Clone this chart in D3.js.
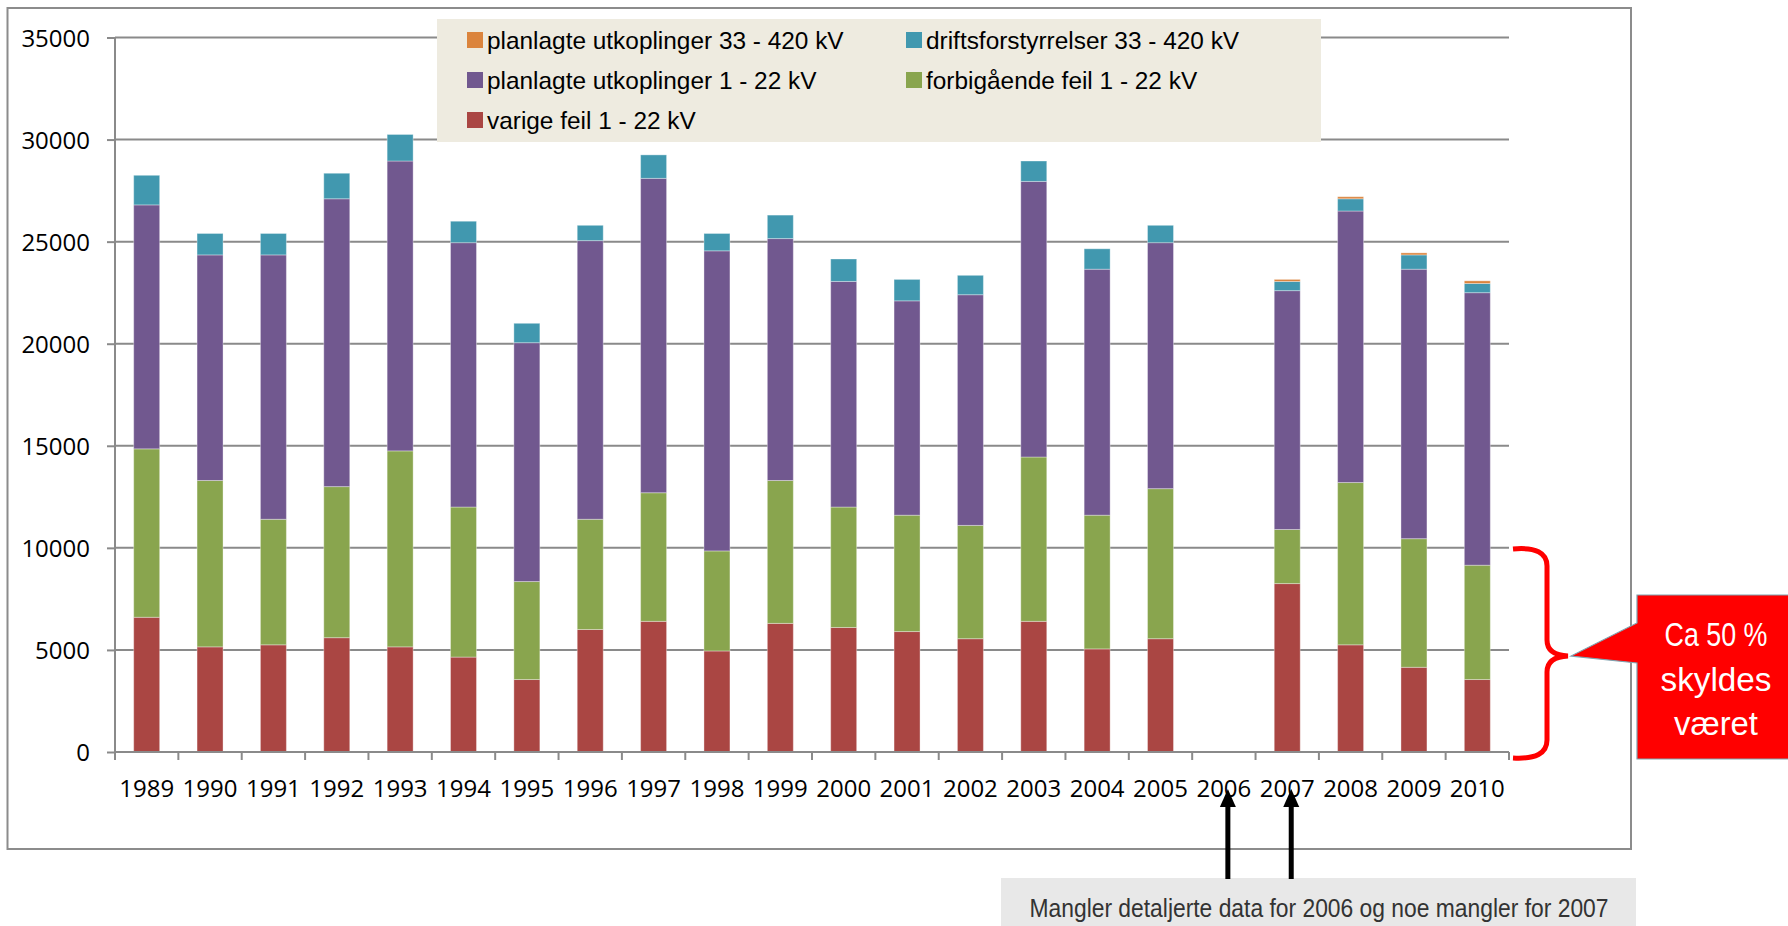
<!DOCTYPE html>
<html>
<head>
<meta charset="utf-8">
<script src="https://cdn.jsdelivr.net/npm/d3@7"></script>
<style>
    body { margin: 0; background: #fff; }
    svg { display: block; }
    .axis text { font-family: "Open Sans", sans-serif; font-size: 24px; fill: #000; }
    .legend text { font-family: "Liberation Sans", sans-serif; font-size: 24.4px; fill: #000; }
    .note { font-family: "Liberation Sans Narrow", "Liberation Sans", sans-serif; }
</style>
</head>
<body>
<div id="chart"></div>
<script>
// data
var years = ["1989", "1990", "1991", "1992", "1993", "1994", "1995", "1996", "1997", "1998", "1999",
             "2000", "2001", "2002", "2003", "2004", "2005", "2006", "2007", "2008", "2009", "2010"];
var varigeFeil = [6600, 5150, 5250, 5600, 5150, 4650, 3550, 6000, 6400, 4950, 6300,
                  6100, 5900, 5550, 6400, 5050, 5550, 0, 8250, 5250, 4150, 3550];
var forbigaendeFeil = [8250, 8150, 6150, 7400, 9600, 7350, 4800, 5400, 6300, 4900, 7000,
                       5900, 5700, 5550, 8050, 6550, 7350, 0, 2650, 7950, 6300, 5600];
var planlagteLav = [11950, 11050, 12950, 14100, 14200, 12950, 11700, 13650, 15400, 14700, 11850,
                    11050, 10500, 11300, 13500, 12050, 12050, 0, 11700, 13300, 13200, 13350];
var driftsHoy = [1450, 1050, 1050, 1250, 1300, 1050, 950, 750, 1150, 850, 1150,
                 1100, 1050, 950, 1000, 1000, 850, 0, 450, 600, 700, 450];
var planlagteHoy = [0, 0, 0, 0, 0, 0, 0, 0, 0, 0, 0,
                    0, 0, 0, 0, 0, 0, 0, 100, 100, 100, 130];
var yTicks = [0, 5000, 10000, 15000, 20000, 25000, 30000, 35000];

var series = [
    { key: "varige", name: "varige feil 1 - 22 kV", values: varigeFeil, color: "#aa4643" },
    { key: "forb", name: "forbigående feil 1 - 22 kV", values: forbigaendeFeil, color: "#89a54e" },
    { key: "planLav", name: "planlagte utkoplinger 1 - 22 kV", values: planlagteLav, color: "#71588f" },
    { key: "drifts", name: "driftsforstyrrelser 33 - 420 kV", values: driftsHoy, color: "#4198af" },
    { key: "planHoy", name: "planlagte utkoplinger 33 - 420 kV", values: planlagteHoy, color: "#db843d" }
];

var W = 1788, H = 926;
var plot = { left: 115, right: 1509, top: 37.5, bottom: 752 };

var svg = d3.select("#chart").append("svg")
    .attr("width", W)
    .attr("height", H);

// outer chart border
svg.append("rect")
    .attr("x", 7.5).attr("y", 8)
    .attr("width", 1631 - 7.5).attr("height", 849 - 8)
    .attr("fill", "#fff")
    .attr("stroke", "#8c8c8c")
    .attr("stroke-width", 2);

var x = d3.scaleBand()
    .domain(years)
    .range([plot.left, plot.right])
    .paddingInner(0.59)
    .paddingOuter(0.295);

var y = d3.scaleLinear()
    .domain([0, 35000])
    .range([plot.bottom, plot.top]);

// gridlines
svg.append("g")
    .selectAll("line")
    .data(yTicks.slice(1))
    .enter().append("line")
    .attr("x1", plot.left).attr("x2", plot.right)
    .attr("y1", function (d) { return y(d); })
    .attr("y2", function (d) { return y(d); })
    .attr("stroke", "#8a8a8a")
    .attr("stroke-width", 2);

// stacked bars
var table = years.map(function (yr, i) {
    var row = { year: yr };
    series.forEach(function (s) { row[s.key] = s.values[i]; });
    return row;
});
var stacked = d3.stack().keys(series.map(function (s) { return s.key; }))(table);

svg.append("g")
    .selectAll("g")
    .data(stacked)
    .enter().append("g")
    .attr("fill", function (d, i) { return series[i].color; })
    .selectAll("rect")
    .data(function (d) { return d; })
    .enter().append("rect")
    .attr("x", function (d) { return x(d.data.year); })
    .attr("width", x.bandwidth())
    .attr("y", function (d) { return y(d[1]); })
    .attr("height", function (d) { return y(d[0]) - y(d[1]); })
    .attr("stroke", "rgba(255,255,255,0.35)")
    .attr("stroke-width", 1);

// y axis
var yAxis = d3.axisLeft(y)
    .tickValues(yTicks)
    .tickSize(8)
    .tickPadding(17)
    .tickFormat(d3.format("d"));
var gy = svg.append("g")
    .attr("class", "axis")
    .attr("transform", "translate(" + plot.left + ",0)")
    .call(yAxis);
gy.select(".domain").attr("stroke", "#8a8a8a").attr("stroke-width", 2).attr("d", "M0," + plot.top + "V" + plot.bottom);
gy.selectAll(".tick line").attr("stroke", "#8a8a8a").attr("stroke-width", 2);
gy.selectAll(".tick text").attr("dy", "0.36em");

// x axis: ticks on category boundaries
var boundaries = d3.range(years.length + 1).map(function (i) { return plot.left + i * (plot.right - plot.left) / years.length; });
var gx = svg.append("g")
    .attr("class", "axis")
    .attr("transform", "translate(0," + plot.bottom + ")");
gx.append("line")
    .attr("x1", plot.left).attr("x2", plot.right)
    .attr("stroke", "#8a8a8a").attr("stroke-width", 2);
gx.selectAll("line.tk")
    .data(boundaries)
    .enter().append("line")
    .attr("class", "tk")
    .attr("x1", function (d) { return d; }).attr("x2", function (d) { return d; })
    .attr("y1", 0).attr("y2", 8)
    .attr("stroke", "#8a8a8a").attr("stroke-width", 2);
gx.selectAll("text")
    .data(years)
    .enter().append("text")
    .attr("x", function (d) { return x(d) + x.bandwidth() / 2; })
    .attr("y", 44.5)
    .attr("text-anchor", "middle")
    .text(function (d) { return d; });

// legend
var legendOrder = [series[4], series[3], series[2], series[1], series[0]];
var lg = svg.append("g").attr("class", "legend");
lg.append("rect")
    .attr("x", 437).attr("y", 19)
    .attr("width", 1321 - 437).attr("height", 142 - 19)
    .attr("fill", "#eeebe0");
var items = lg.selectAll("g.item")
    .data(legendOrder)
    .enter().append("g")
    .attr("class", "item")
    .attr("transform", function (d, i) {
        return "translate(" + (i % 2 === 0 ? 467 : 906) + "," + (32 + Math.floor(i / 2) * 40) + ")";
    });
items.append("rect")
    .attr("width", 16).attr("height", 16)
    .attr("fill", function (d) { return d.color; });
items.append("text")
    .attr("x", 20).attr("y", 16.5)
    .text(function (d) { return d.name; });

// red brace
svg.append("path")
    .attr("d", "M1513,549 Q1547,546 1547,566 L1547,640 Q1547,655 1568,656 Q1547,657 1547,672 L1547,740 Q1547,760 1513,758")
    .attr("fill", "none")
    .attr("stroke", "#ff0000")
    .attr("stroke-width", 5);

// callout
svg.append("path")
    .attr("d", "M1637,595 L1790,595 L1790,759 L1637,759 L1637,663 L1571,656 L1637,623 Z")
    .attr("fill", "#ff0000")
    .attr("stroke", "#7fa3b0")
    .attr("stroke-width", 1.2);
var callLines = ["Ca 50 %", "skyldes", "været"];
var callWidths = [103, 111, 84];
svg.append("g")
    .selectAll("text")
    .data(callLines)
    .enter().append("text")
    .attr("class", "note")
    .attr("x", 1716)
    .attr("y", function (d, i) { return [646, 691, 735][i]; })
    .attr("text-anchor", "middle")
    .attr("font-size", 33)
    .attr("textLength", function (d, i) { return callWidths[i]; })
    .attr("lengthAdjust", "spacingAndGlyphs")
    .attr("fill", "#fff")
    .text(function (d) { return d; });

// note box and arrows
svg.append("rect")
    .attr("x", 1001).attr("y", 878)
    .attr("width", 1636 - 1001).attr("height", H - 878)
    .attr("fill", "#e8e8e8");
svg.append("text")
    .attr("class", "note")
    .attr("x", 1319).attr("y", 917)
    .attr("text-anchor", "middle")
    .attr("font-size", 25)
    .attr("textLength", 579)
    .attr("lengthAdjust", "spacingAndGlyphs")
    .attr("fill", "#333")
    .text("Mangler detaljerte data for 2006 og noe mangler for 2007");

["2006", "2007"].forEach(function (yr) {
    var cx = x(yr) + x.bandwidth() / 2 + 4;
    svg.append("line")
        .attr("x1", cx).attr("x2", cx)
        .attr("y1", 804).attr("y2", 879)
        .attr("stroke", "#000").attr("stroke-width", 5);
    svg.append("path")
        .attr("d", "M" + (cx - 8) + ",807 L" + cx + ",789 L" + (cx + 8) + ",807 Z")
        .attr("fill", "#000");
});
</script>
</body>
</html>
